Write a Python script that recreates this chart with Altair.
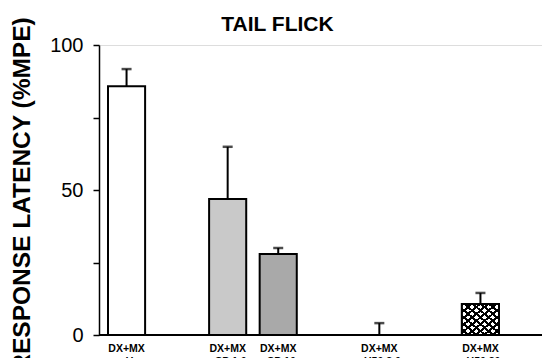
import altair as alt
import pandas as pd

# Treatment groups along the x axis (blank slots keep the gaps between groups)
slots = ["DX+MX\n+V", " ", "DX+MX\n+CP 1.0", "DX+MX\n+CP 10", "  ",
         "DX+MX\n+U50 3.0", "   ", "DX+MX\n+U50 30"]
groups = ["DX+MX\n+V", "DX+MX\n+CP 1.0", "DX+MX\n+CP 10",
          "DX+MX\n+U50 3.0", "DX+MX\n+U50 30"]
mean_mpe = [85.8, 46.9, 27.9, 0.0, 10.7]
sem_mpe = [5.9, 18.0, 2.1, 4.1, 3.8]

df = pd.DataFrame({"group": groups, "mpe": mean_mpe, "sem": sem_mpe})
df["top"] = df["mpe"] + df["sem"]

FONT = "Liberation Sans"
W, H = 443, 290

xscale = alt.Scale(domain=slots, range=[9, 400], paddingInner=0.266, paddingOuter=0)
yscale = alt.Scale(domain=[0, 100], nice=False)

x_enc = alt.X("group:N", scale=xscale, sort=slots,
              axis=alt.Axis(title=None, domain=False, ticks=False, labelAngle=0,
                            labelFont=FONT, labelFontWeight="bold", labelFontSize=10.5,
                            labelColor="black", labelPadding=8, labelLineHeight=13,
                            labelExpr="split(datum.label, '\\n')"))
y_enc = alt.Y("mpe:Q", scale=yscale,
              axis=alt.Axis(title="RESPONSE LATENCY (%MPE)", values=[0, 25, 50, 75, 100],
                            labelExpr="datum.value % 50 == 0 ? datum.label : ''",
                            grid=False, domainColor="black", domainWidth=1.5,
                            tickColor="black", tickSize=6, tickWidth=1.5,
                            labelFont=FONT, labelFontSize=20, labelColor="black",
                            labelPadding=10,
                            titleFont=FONT, titleFontSize=24.5, titleFontWeight="bold",
                            titleColor="black", titleAngle=270, titleAlign="center",
                            titleBaseline="middle", titleX=-77, titleY=149))

# Plain and stippled bars (stipple rendered as a flat grey tone)
fills = {groups[0]: "white", groups[1]: "#c9c9c9", groups[2]: "#a9a9a9",
         groups[3]: "white", groups[4]: "white"}
bars = alt.Chart(df).mark_bar(stroke="black", strokeWidth=2).encode(
    x=x_enc, y=y_enc,
    fill=alt.Fill("group:N", legend=None,
                  scale=alt.Scale(domain=list(fills.keys()), range=list(fills.values()))),
)


def hatch(x1, x2, base):
    stops = []
    n = 9
    for i in range(n):
        a = i / n
        b = (i + 0.38) / n
        c = (i + 1) / n
        stops += [alt.GradientStop(color="black", offset=a),
                  alt.GradientStop(color="black", offset=b),
                  alt.GradientStop(color=base, offset=b),
                  alt.GradientStop(color=base, offset=c)]
    return alt.LinearGradient(gradient="linear", stops=stops, x1=x1, y1=0, x2=x2, y2=1)


cross = df[df["group"] == groups[4]]
hatch1 = alt.Chart(cross).mark_bar(fill=hatch(0, 1, "white")).encode(x=x_enc, y=y_enc)
hatch2 = alt.Chart(cross).mark_bar(fill=hatch(1, 0, "rgba(255,255,255,0)"),
                                   stroke="black", strokeWidth=2).encode(x=x_enc, y=y_enc)

err = alt.Chart(df).mark_rule(color="black", strokeWidth=2).encode(
    x=alt.X("group:N", scale=xscale, sort=slots), y="mpe:Q", y2="top:Q")
caps = alt.Chart(df).mark_tick(color="black", size=10, thickness=2.5).encode(
    x=alt.X("group:N", scale=xscale, sort=slots), y=alt.Y("top:Q", scale=yscale))

baseline = alt.Chart(df).mark_rule(color="black", strokeWidth=1.5).encode(
    y=alt.datum(0), x=alt.value(0), x2=alt.value(W))

chart = alt.layer(bars, hatch1, hatch2, err, caps, baseline).properties(
    width=W, height=H,
    title=alt.TitleParams("TAIL FLICK", font=FONT, fontSize=21, fontWeight="bold",
                          color="black", anchor="middle", dx=-43, offset=-18),
    padding={"left": 99, "top": 45, "right": 0, "bottom": 23},
    autosize="none",
).configure_view(stroke=None).configure(background="white")

chart.save("out.html", embed_options={"renderer": "svg", "actions": False})
